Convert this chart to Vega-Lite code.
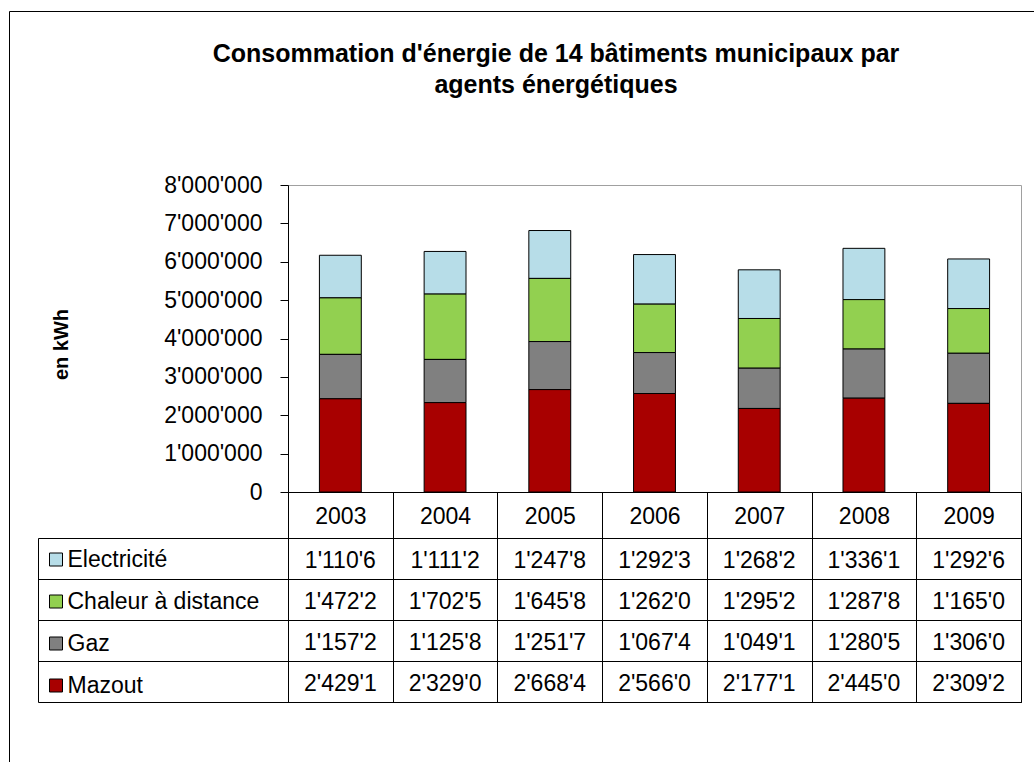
{
  "$schema": "https://vega.github.io/schema/vega-lite/v6.json",
  "autosize": {"type": "pad"},
  "padding": {"left": 8, "top": 10, "right": 0, "bottom": 0},
  "background": "white",
  "bounds": "flush",
  "spacing": 46,
  "title": {
    "text": ["Consommation d'énergie de 14 bâtiments municipaux par", "agents énergétiques"],
    "font": "Liberation Sans",
    "fontSize": 25,
    "fontWeight": "bold",
    "lineHeight": 31,
    "color": "black",
    "anchor": "middle",
    "dx": 26,
    "offset": -88
  },
  "data": {
    "values": [
      {"year": "2003", "serie": "Electricité", "rang": 4, "value": 1110600, "label": "1'110'6"},
      {"year": "2004", "serie": "Electricité", "rang": 4, "value": 1111200, "label": "1'111'2"},
      {"year": "2005", "serie": "Electricité", "rang": 4, "value": 1247800, "label": "1'247'8"},
      {"year": "2006", "serie": "Electricité", "rang": 4, "value": 1292300, "label": "1'292'3"},
      {"year": "2007", "serie": "Electricité", "rang": 4, "value": 1268200, "label": "1'268'2"},
      {"year": "2008", "serie": "Electricité", "rang": 4, "value": 1336100, "label": "1'336'1"},
      {"year": "2009", "serie": "Electricité", "rang": 4, "value": 1292600, "label": "1'292'6"},
      {"year": "2003", "serie": "Chaleur à distance", "rang": 3, "value": 1472200, "label": "1'472'2"},
      {"year": "2004", "serie": "Chaleur à distance", "rang": 3, "value": 1702500, "label": "1'702'5"},
      {"year": "2005", "serie": "Chaleur à distance", "rang": 3, "value": 1645800, "label": "1'645'8"},
      {"year": "2006", "serie": "Chaleur à distance", "rang": 3, "value": 1262000, "label": "1'262'0"},
      {"year": "2007", "serie": "Chaleur à distance", "rang": 3, "value": 1295200, "label": "1'295'2"},
      {"year": "2008", "serie": "Chaleur à distance", "rang": 3, "value": 1287800, "label": "1'287'8"},
      {"year": "2009", "serie": "Chaleur à distance", "rang": 3, "value": 1165000, "label": "1'165'0"},
      {"year": "2003", "serie": "Gaz", "rang": 2, "value": 1157200, "label": "1'157'2"},
      {"year": "2004", "serie": "Gaz", "rang": 2, "value": 1125800, "label": "1'125'8"},
      {"year": "2005", "serie": "Gaz", "rang": 2, "value": 1251700, "label": "1'251'7"},
      {"year": "2006", "serie": "Gaz", "rang": 2, "value": 1067400, "label": "1'067'4"},
      {"year": "2007", "serie": "Gaz", "rang": 2, "value": 1049100, "label": "1'049'1"},
      {"year": "2008", "serie": "Gaz", "rang": 2, "value": 1280500, "label": "1'280'5"},
      {"year": "2009", "serie": "Gaz", "rang": 2, "value": 1306000, "label": "1'306'0"},
      {"year": "2003", "serie": "Mazout", "rang": 1, "value": 2429100, "label": "2'429'1"},
      {"year": "2004", "serie": "Mazout", "rang": 1, "value": 2329000, "label": "2'329'0"},
      {"year": "2005", "serie": "Mazout", "rang": 1, "value": 2668400, "label": "2'668'4"},
      {"year": "2006", "serie": "Mazout", "rang": 1, "value": 2566000, "label": "2'566'0"},
      {"year": "2007", "serie": "Mazout", "rang": 1, "value": 2177100, "label": "2'177'1"},
      {"year": "2008", "serie": "Mazout", "rang": 1, "value": 2445000, "label": "2'445'0"},
      {"year": "2009", "serie": "Mazout", "rang": 1, "value": 2309200, "label": "2'309'2"}
    ]
  },
  "vconcat": [
    {
      "width": 733,
      "height": 307,
      "view": {"stroke": "#A0A0A0", "strokeWidth": 1},
      "mark": {"type": "bar", "width": {"band": 0.4}, "stroke": "black"},
      "encoding": {
        "x": {
          "field": "year",
          "type": "ordinal",
          "scale": {"paddingInner": 0, "paddingOuter": 0},
          "axis": {
            "title": null,
            "labelAngle": 0,
            "labelFontSize": 23,
            "labelColor": "black",
            "labelBaseline": "middle",
            "labelPadding": -22,
            "tickBand": "extent",
            "tickSize": 46,
            "tickColor": "black",
            "domainColor": "black",
            "grid": false
          }
        },
        "y": {
          "field": "value",
          "type": "quantitative",
          "aggregate": "sum",
          "stack": "zero",
          "scale": {"domain": [0, 8000000], "nice": false},
          "axis": {
            "title": "en kWh",
            "titleFontSize": 20,
            "titleFontWeight": "bold",
            "titleColor": "black",
            "titleX": -221,
            "titleY": 159,
            "titleBaseline": "alphabetic",
            "values": [0, 1000000, 2000000, 3000000, 4000000, 5000000, 6000000, 7000000, 8000000],
            "format": ",d",
            "labelFontSize": 23,
            "labelColor": "black",
            "labelPadding": 18,
            "tickSize": 8,
            "tickColor": "black",
            "domainColor": "black",
            "grid": false
          }
        },
        "order": {"field": "rang", "type": "quantitative"},
        "strokeWidth": {
          "datum": "cadre",
          "type": "ordinal",
          "scale": {"range": [1]},
          "legend": {
            "orient": "none",
            "legendX": -279,
            "legendY": -174,
            "title": null,
            "padding": 520,
            "strokeColor": "black",
            "symbolSize": 0,
            "symbolOpacity": 0,
            "symbolStrokeWidth": 0,
            "labelColor": "transparent",
            "labelFontSize": 1,
            "labelLimit": 2
          }
        },
        "color": {
          "field": "serie",
          "type": "nominal",
          "scale": {
            "domain": ["Mazout", "Gaz", "Chaleur à distance", "Electricité"],
            "range": ["#A80000", "#808080", "#92D050", "#B7DDE8"]
          },
          "legend": {
            "orient": "none",
            "legendX": -243.5,
            "legendY": 363,
            "values": ["Electricité", "Chaleur à distance", "Gaz", "Mazout"],
            "title": null,
            "padding": 0,
            "symbolType": "square",
            "symbolSize": 169,
            "symbolStrokeColor": "black",
            "symbolStrokeWidth": 1,
            "symbolOpacity": 1,
            "labelFontSize": 23,
            "labelFont": "Liberation Sans",
            "labelColor": "black",
            "labelOffset": 0,
            "labelLimit": 400,
            "rowPadding": 18
          }
        }
      }
    },
    {
      "width": 733,
      "height": 164,
      "view": {"stroke": "black", "strokeWidth": 1},
      "mark": {"type": "text", "fontSize": 23, "font": "Liberation Sans", "color": "black", "baseline": "middle", "dy": 2},
      "encoding": {
        "x": {
          "field": "year",
          "type": "ordinal",
          "scale": {"type": "band", "paddingInner": 0, "paddingOuter": 0},
          "axis": {
            "title": null,
            "labels": false,
            "ticks": false,
            "domain": false,
            "grid": true,
            "gridColor": "black",
            "gridOpacity": 1,
            "gridWidth": 1,
            "tickBand": "extent"
          }
        },
        "y": {
          "field": "serie",
          "type": "nominal",
          "sort": ["Electricité", "Chaleur à distance", "Gaz", "Mazout"],
          "scale": {"type": "band", "paddingInner": 0, "paddingOuter": 0},
          "axis": {
            "title": null,
            "labels": false,
            "offset": 250,
            "ticks": true,
            "tickSize": -983,
            "tickColor": "black",
            "tickBand": "extent",
            "domain": true,
            "domainColor": "black",
            "grid": false
          }
        },
        "text": {"field": "label", "type": "nominal"}
      }
    }
  ],
  "resolve": {
    "scale": {"color": "independent", "strokeWidth": "independent"},
    "legend": {"color": "independent", "strokeWidth": "independent"}
  },
  "config": {
    "font": "Liberation Sans",
    "locale": {"number": {"decimal": ".", "thousands": "'", "grouping": [3], "currency": ["", ""]}},
    "axis": {"labelFont": "Liberation Sans", "titleFont": "Liberation Sans"},
    "text": {"font": "Liberation Sans"}
  }
}
